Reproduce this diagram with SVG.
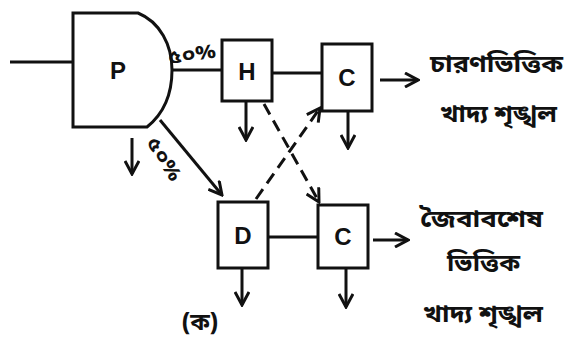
<svg xmlns="http://www.w3.org/2000/svg" width="570" height="340" viewBox="0 0 570 340">
  <style>
    .box { fill: none; stroke: #111; stroke-width: 3; }
    .ln { fill: none; stroke: #111; stroke-width: 3; }
    .dash { fill: none; stroke: #111; stroke-width: 3; stroke-dasharray: 12 7; }
    .lbl { font-family: "Liberation Sans", Arial, sans-serif; font-weight: bold; font-size: 24px; fill: #111; text-anchor: middle; }
    .bn { font-family: "Noto Sans Bengali", "Lohit Bengali", "Noto Sans", "FreeSans", sans-serif; font-weight: bold; font-size: 24px; fill: #111; }
    .pct { font-family: "Noto Sans Bengali", "Lohit Bengali", "Noto Sans", sans-serif; font-weight: bold; font-size: 19px; fill: #111; }
  </style>
  <defs>
    <marker id="arrL" viewBox="0 0 16 16" refX="14" refY="8" markerWidth="16" markerHeight="16" markerUnits="userSpaceOnUse" orient="auto">
      <path d="M1,1 L14,8 L1,15" fill="none" stroke="#111" stroke-width="3"/>
    </marker>
  </defs>

  <rect width="570" height="340" fill="#fff"/>

  <!-- connectors -->
  <g id="connectors">
    <line class="ln" x1="10" y1="62" x2="73" y2="62"/>
    <line class="ln" x1="172" y1="70" x2="222" y2="70"/>
    <line class="ln" x1="272" y1="73" x2="322" y2="73"/>
    <line class="ln" x1="268" y1="237" x2="318" y2="237"/>
    <line class="ln" x1="160" y1="120" x2="222" y2="195" marker-end="url(#arrL)"/>
    <line class="ln" x1="132" y1="138" x2="132" y2="174" marker-end="url(#arrL)"/>
    <line class="ln" x1="246" y1="101" x2="246" y2="140" marker-end="url(#arrL)"/>
    <line class="ln" x1="348" y1="111" x2="348" y2="148" marker-end="url(#arrL)"/>
    <line class="ln" x1="242" y1="268" x2="242" y2="305" marker-end="url(#arrL)"/>
    <line class="ln" x1="346" y1="268" x2="346" y2="307" marker-end="url(#arrL)"/>
    <line class="ln" x1="380" y1="80" x2="418" y2="80" marker-end="url(#arrL)"/>
    <line class="ln" x1="373" y1="240" x2="408" y2="240" marker-end="url(#arrL)"/>
    <line class="dash" x1="264" y1="104" x2="319" y2="202" marker-end="url(#arrL)"/>
    <line class="dash" x1="256" y1="199" x2="320" y2="108" marker-end="url(#arrL)"/>
  </g>

  <!-- producer -->
  <g id="node-P">
    <path class="box" d="M73,13 L138,13 C160,22 172,45 172,70 C172,98 162,115 147,127 L73,127 Z"/>
    <text class="lbl" x="118" y="79">P</text>
  </g>

  <g id="node-H">
    <rect class="box" x="222" y="40" width="50" height="61"/>
    <text class="lbl" x="247" y="80">H</text>
  </g>

  <g id="node-C1">
    <rect class="box" x="322" y="44" width="50" height="67"/>
    <text class="lbl" x="347" y="86">C</text>
  </g>

  <g id="node-D">
    <rect class="box" x="218" y="202" width="50" height="66"/>
    <text class="lbl" x="243" y="244">D</text>
  </g>

  <g id="node-C2">
    <rect class="box" x="318" y="205" width="50" height="63"/>
    <text class="lbl" x="343" y="245">C</text>
  </g>

  <!-- percentages -->
  <text class="pct" x="169" y="64" transform="rotate(-8 169 64)" textLength="48" lengthAdjust="spacingAndGlyphs">৫০%</text>
  <text class="pct" x="0" y="0" transform="translate(146 142) rotate(58)" textLength="48" lengthAdjust="spacingAndGlyphs">৫০%</text>

  <!-- chain labels -->
  <g id="label-grazing">
    <text class="bn" x="430" y="72" textLength="133" lengthAdjust="spacingAndGlyphs">চারণভিত্তিক</text>
    <text class="bn" x="440" y="122" textLength="117" lengthAdjust="spacingAndGlyphs">খাদ্য শৃঙ্খল</text>
  </g>
  <g id="label-detritus">
    <text class="bn" x="420" y="227" textLength="123" lengthAdjust="spacingAndGlyphs">জৈবাবশেষ</text>
    <text class="bn" x="447" y="271" textLength="73" lengthAdjust="spacingAndGlyphs">ভিত্তিক</text>
    <text class="bn" x="423" y="322" textLength="120" lengthAdjust="spacingAndGlyphs">খাদ্য শৃঙ্খল</text>
  </g>
  <text class="bn" x="200" y="330" text-anchor="middle" font-size="20">(ক)</text>
</svg>
